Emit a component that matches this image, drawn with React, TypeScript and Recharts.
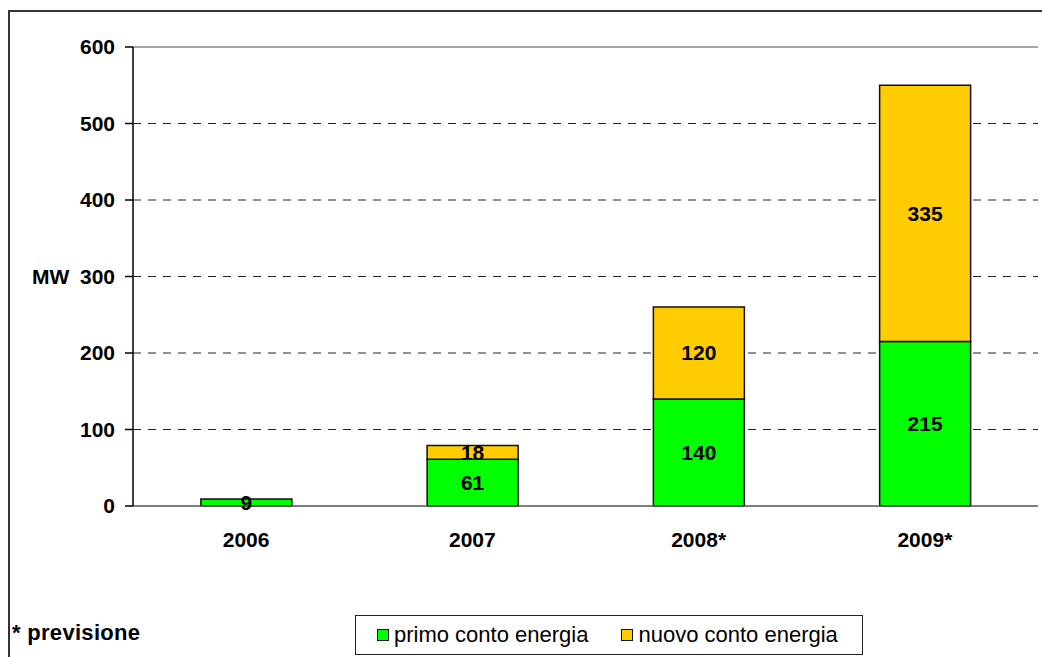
import React from "react";
import {
  BarChart,
  Bar,
  XAxis,
  YAxis,
  CartesianGrid,
  LabelList,
  ReferenceLine,
  Label,
} from "recharts";

const categories = ["2006", "2007", "2008*", "2009*"];
const primoValues = [9, 61, 140, 215];
const nuovoValues: (number | null)[] = [null, 18, 120, 335];
const yTicks = [0, 100, 200, 300, 400, 500, 600];
const gridValues = [100, 200, 300, 400, 500];
const edgeTicks = [0, 1, 2, 3, 4];
const seriesNames = ["primo conto energia", "nuovo conto energia"];
const seriesColors = ["#00ff00", "#ffcc00"];
const axisTitle = "MW";
const footnote = "* previsione";

const data = categories.map((c, i) => ({
  year: c,
  primo: primoValues[i],
  nuovo: nuovoValues[i],
}));

const FONT = "'Liberation Sans', Arial, Helvetica, sans-serif";
const TXT = { fill: "#000", fontSize: 21, fontWeight: "bold", fontFamily: FONT };

const fmt = (v: any) => (v === null || v === undefined || v === 0 ? "" : v);

export default function App() {
  return (
    <div
      style={{
        position: "absolute",
        left: 0,
        top: 0,
        width: 1042,
        height: 657,
        overflow: "hidden",
        background: "#fff",
        fontFamily: FONT,
      }}
    >
      <div
        style={{
          position: "absolute",
          left: 8,
          top: 10,
          width: 1200,
          height: 800,
          borderLeft: "2px solid #333",
          borderTop: "2px solid #333",
        }}
      />
      <div style={{ position: "absolute", left: 0, top: 0 }}>
        <BarChart
          width={1042}
          height={657}
          data={data}
          margin={{ top: 47, right: 4, left: 0, bottom: 111 }}
          barCategoryGap="30%"
        >
          <CartesianGrid
            vertical={false}
            horizontalValues={gridValues}
            stroke="#222"
            strokeDasharray="8 7"
            strokeWidth={1}
          />
          <XAxis
            xAxisId="edge"
            type="number"
            domain={[0, 4]}
            ticks={edgeTicks}
            allowDataOverflow
            height={0}
            tick={false}
            axisLine={false}
            tickLine={{ stroke: "#555", strokeWidth: 1.5 }}
            tickSize={7}
          />
          <XAxis
            xAxisId="cat"
            dataKey="year"
            height={40}
            tickLine={false}
            axisLine={{ stroke: "#555", strokeWidth: 1.5 }}
            tickSize={8}
            tickMargin={18}
            tick={TXT}
            interval={0}
          />
          <YAxis
            width={133}
            domain={[0, 600]}
            ticks={yTicks}
            interval={0}
            axisLine={{ stroke: "#000", strokeWidth: 1.5 }}
            tickLine={{ stroke: "#000", strokeWidth: 1.5 }}
            tickSize={8}
            tickMargin={10}
            tick={TXT}
          >
            <Label value={axisTitle} position="insideLeft" offset={32} style={TXT} />
          </YAxis>
          <ReferenceLine y={600} xAxisId="cat" stroke="#888" strokeWidth={1.5} />
          <ReferenceLine x={4} xAxisId="edge" stroke="#888" strokeWidth={1.5} />
          <Bar
            xAxisId="cat"
            dataKey="primo"
            name={seriesNames[0]}
            stackId="s"
            fill={seriesColors[0]}
            stroke="#111"
            strokeWidth={1.5}
            isAnimationActive={false}
          >
            <LabelList dataKey="primo" position="center" formatter={fmt} style={TXT} />
          </Bar>
          <Bar
            xAxisId="cat"
            dataKey="nuovo"
            name={seriesNames[1]}
            stackId="s"
            fill={seriesColors[1]}
            stroke="#111"
            strokeWidth={1.5}
            isAnimationActive={false}
          >
            <LabelList dataKey="nuovo" position="center" formatter={fmt} style={TXT} />
          </Bar>
        </BarChart>
      </div>
      <div
        style={{
          position: "absolute",
          left: 12,
          top: 620,
          fontSize: 22,
          fontWeight: "bold",
          color: "#000",
          lineHeight: "26px",
          letterSpacing: 0.3,
        }}
      >
        {footnote}
      </div>
      <div
        style={{
          position: "absolute",
          left: 355,
          top: 615,
          width: 508,
          height: 40,
          border: "1.5px solid #222",
          boxSizing: "border-box",
          display: "flex",
          alignItems: "center",
          justifyContent: "flex-start",
          paddingLeft: 21,
          gap: 33,
          fontSize: 22,
          color: "#000",
        }}
      >
        {seriesNames.map((n, i) => (
          <div key={n} style={{ display: "flex", alignItems: "center" }}>
            <span
              style={{
                display: "inline-block",
                width: 10,
                height: 10,
                background: seriesColors[i],
                border: "1.5px solid #111",
                marginRight: 5,
              }}
            />
            <span>{n}</span>
          </div>
        ))}
      </div>
    </div>
  );
}
